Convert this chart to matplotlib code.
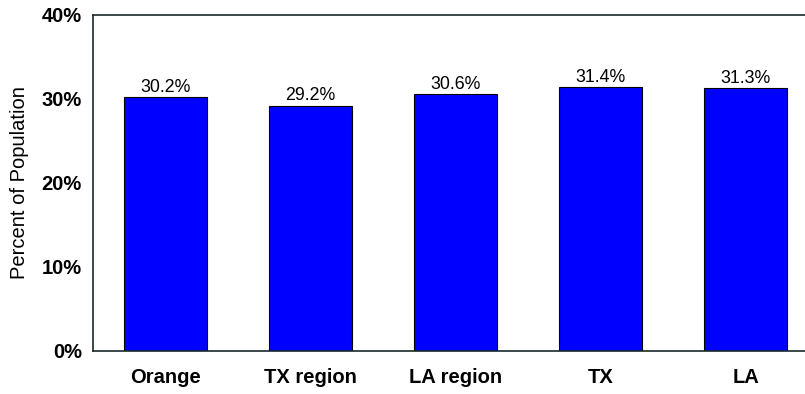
import matplotlib.pyplot as plt
import numpy as np

plt.rcParams['font.family'] = ['Liberation Sans', 'DejaVu Sans']

categories = ['Orange', 'TX region', 'LA region', 'TX', 'LA']
values = [30.2, 29.2, 30.6, 31.4, 31.3]
yticks = [0, 10, 20, 30, 40]

fig = plt.figure(figsize=(8.05, 3.94), dpi=100)
# axes run a little past the right edge of the figure
ax = fig.add_axes([93/805, 1 - 351/394, 725/805, 336/394])

x = np.arange(len(categories))
bars = ax.bar(x, values, width=0.57, color='#0000FF', edgecolor='black', linewidth=0.8)
for xi, v in zip(x, values):
    ax.text(xi, v + 0.15, f'{v:.1f}%', ha='center', va='bottom', fontsize=12.8)

ax.set_xlim(-0.5, len(categories) - 0.5)
ax.set_ylim(0, 40)
ax.set_yticks(yticks)
ax.set_yticklabels([f'{t}%' for t in yticks], fontsize=14.5, fontweight='bold')
ax.set_xticks(x)
ax.set_xticklabels(categories, fontsize=14.5, fontweight='bold')
ax.tick_params(length=0)
ax.tick_params(axis='y', pad=8)
ax.tick_params(axis='x', pad=12)
ax.set_ylabel('Percent of Population', fontsize=14.5)
ax.yaxis.set_label_coords(-64/725, 0.5)
for s in ax.spines.values():
    s.set_color('#1a2a2a')
    s.set_linewidth(1.2)

fig.savefig('out.png', dpi=100)
